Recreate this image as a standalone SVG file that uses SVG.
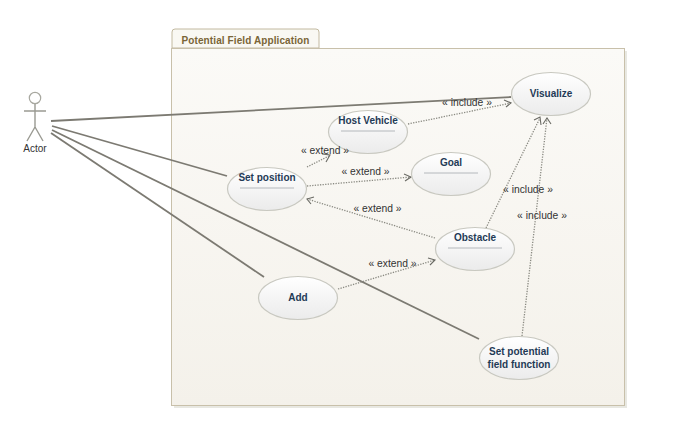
<svg xmlns="http://www.w3.org/2000/svg" width="675" height="448" viewBox="0 0 675 448">
<style>
text{font-family:"Liberation Sans",Arial,sans-serif}
.uc{fill:url(#ucg);stroke:#c8c8c0;stroke-width:1.2}
.n{font-size:10px;font-weight:bold;fill:#1f3a56;text-anchor:middle}
.sep{stroke:#b4b8bc;stroke-width:1}
.lbl{font-size:10.3px;fill:#333;text-anchor:middle}
.assoc{stroke:#7c7a72;stroke-width:1.8;fill:none}
.dep{stroke:#8a8a82;stroke-width:1.3;stroke-dasharray:1.300 1.300;fill:none}
.head{stroke:#6a6a64;stroke-width:1.100;fill:none}
.act{stroke:#9a9a92;stroke-width:1.400;fill:none}
</style>
<defs>
<linearGradient id="ucg" x1="0" y1="0" x2="0" y2="1"><stop offset="0" stop-color="#fff"/><stop offset="1" stop-color="#ebebeb"/></linearGradient>
<linearGradient id="bg" x1="0" y1="0" x2="0" y2="1"><stop offset="0" stop-color="#fbfaf7"/><stop offset="1" stop-color="#f4f1ea"/></linearGradient>
</defs>
<rect width="675" height="448" fill="#fff"/>
<g id="package">
<rect x="174" y="51" width="453" height="357" fill="#e8e8e2"/>
<path d="M172 48V32q0-3 3-3H316q3 0 3 3V48Z" fill="#f9f8f3" stroke="#c2b9a0"/>
<rect x="171.500" y="48.500" width="453" height="357" fill="url(#bg)" stroke="#c8c0aa"/>
<text x="245.500" y="44" font-size="10px" font-weight="bold" fill="#7a6537" text-anchor="middle" letter-spacing=".1">Potential Field Application</text>
</g>
<g id="connectors">
<path class="assoc" d="M51 121L511 97"/>
<path class="assoc" d="M52 126L227 176"/>
<path class="assoc" d="M52 130L479 339"/>
<path class="assoc" d="M51 133L264 277"/>
<path class="dep" d="M307 167L329 156"/>
<path class="head" d="M322 154L330 155L326 162"/>
<path class="dep" d="M307 186L411 177"/>
<path class="head" d="M404 174L411 177L405 181"/>
<path class="dep" d="M435 238L307 199"/>
<path class="head" d="M314 197L307 199L311 204"/>
<path class="dep" d="M338 289L435 260"/>
<path class="head" d="M428 258L435 260L430 265"/>
<path class="dep" d="M408 124L511 103"/>
<path class="head" d="M504 100L511 103L506 107"/>
<path class="dep" d="M486 228L540 118"/>
<path class="head" d="M534 120L540 117L541 125"/>
<path class="dep" d="M522 336L547 118"/>
<path class="head" d="M543 124L547 118L551 124"/>
</g>
<g id="actor">
<circle cx="35" cy="98" r="5.700" fill="#fff" stroke="#a8a8a0" stroke-width="1.200"/>
<path class="act" d="M35 104V127M24 111H46M35 127L27 141M35 127L43 141"/>
<text x="35" y="152" font-size="10px" fill="#333" text-anchor="middle">Actor</text>
</g>
<g id="visualize"><ellipse class="uc" cx="551" cy="94" rx="39.500" ry="21.500"/><text class="n" x="551" y="97">Visualize</text></g>
<g id="host-vehicle"><ellipse class="uc" cx="368" cy="132" rx="39.500" ry="21.500"/><text class="n" x="368" y="124">Host Vehicle</text><line class="sep" x1="341" y1="131" x2="395" y2="131"/></g>
<g id="goal"><ellipse class="uc" cx="451" cy="174" rx="39.500" ry="21.500"/><text class="n" x="451" y="166">Goal</text><line class="sep" x1="424" y1="173" x2="478" y2="173"/></g>
<g id="set-position"><ellipse class="uc" cx="267" cy="189" rx="39.500" ry="21.500"/><text class="n" x="267" y="181">Set position</text><line class="sep" x1="240" y1="188" x2="294" y2="188"/></g>
<g id="obstacle"><ellipse class="uc" cx="475" cy="249" rx="39.500" ry="21.500"/><text class="n" x="475" y="241">Obstacle</text><line class="sep" x1="448" y1="248" x2="502" y2="248"/></g>
<g id="add"><ellipse class="uc" cx="298" cy="298" rx="39.500" ry="21.500"/><text class="n" x="298" y="301">Add</text></g>
<g id="set-potential"><ellipse class="uc" cx="519" cy="358" rx="39.500" ry="21.500"/><text class="n" x="519" y="355">Set potential</text><text class="n" x="519" y="368">field function</text></g>
<g id="labels">
<text class="lbl" x="325" y="154">« extend »</text>
<text class="lbl" x="365.500" y="175">« extend »</text>
<text class="lbl" x="377.500" y="212">« extend »</text>
<text class="lbl" x="392.500" y="267">« extend »</text>
<text class="lbl" x="467" y="106">« include »</text>
<text class="lbl" x="528" y="193">« include »</text>
<text class="lbl" x="542" y="219">« include »</text>
</g>
</svg>
